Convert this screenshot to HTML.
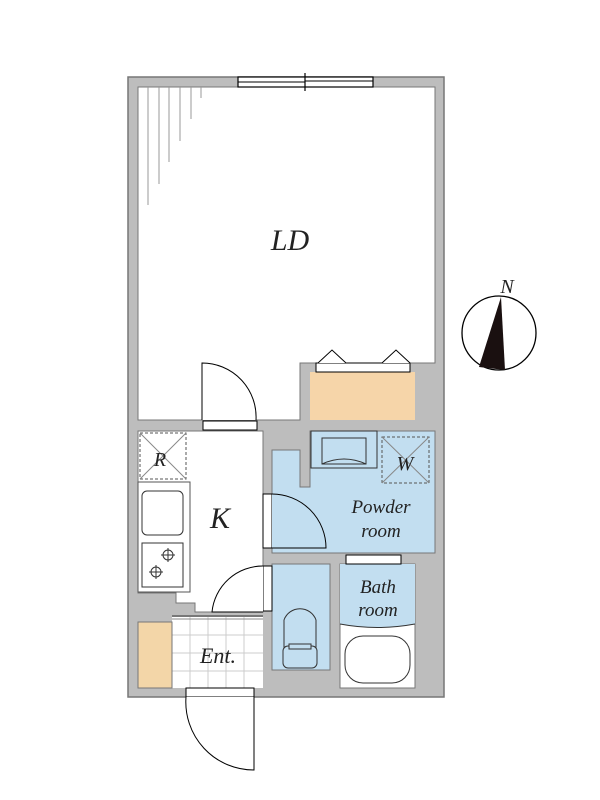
<!DOCTYPE html>
<html><head><meta charset="utf-8"><style>html,body{margin:0;padding:0;background:#fff}svg{display:block}</style></head>
<body>
<svg width="600" height="800" viewBox="0 0 600 800" xmlns="http://www.w3.org/2000/svg" font-family="Liberation Serif, serif" font-style="italic">
<rect x="128" y="77" width="316" height="620" fill="#bdbdbd" stroke="#777" stroke-width="1.5"/>
<path d="M138 87 H435 V363 H300 V420 H138 Z" fill="#fff" stroke="#777" stroke-width="1"/>
<g stroke="#999" stroke-width="1">
<line x1="148" y1="87" x2="148" y2="205"/><line x1="159" y1="87" x2="159" y2="184"/>
<line x1="169" y1="87" x2="169" y2="162"/><line x1="180" y1="87" x2="180" y2="141"/>
<line x1="191" y1="87" x2="191" y2="119"/><line x1="201" y1="87" x2="201" y2="98"/>
</g>
<rect x="238" y="77" width="135" height="10" fill="#fff" stroke="#000" stroke-width="1.2"/>
<line x1="238" y1="82" x2="305" y2="82" stroke="#000"/><line x1="305" y1="81" x2="373" y2="81" stroke="#000"/>
<line x1="305" y1="73" x2="305" y2="91" stroke="#000" stroke-width="1.2"/>
<text x="290" y="250" font-size="30" text-anchor="middle" fill="#222">LD</text>
<rect x="310" y="372" width="105" height="48" fill="#f6d5a9"/>
<rect x="316" y="363" width="94" height="9" fill="#fff" stroke="#000"/>
<path d="M318 363 L332 350 L346 363 M382 363 L396 350 L410 363" fill="#fff" stroke="#000"/>
<rect x="203" y="421" width="54" height="9" fill="#fff" stroke="#000"/>
<path d="M202 420 V363 A54 54 0 0 1 256 420" fill="#fff" stroke="#000"/>
<!-- Kitchen -->
<path d="M138 431 H263 V612 H195 V603 H176 V593 H138 Z" fill="#fff" stroke="#777"/>
<rect x="140" y="433" width="46" height="46" fill="#fff" stroke="#555" stroke-dasharray="3,2"/>
<line x1="140" y1="433" x2="186" y2="479" stroke="#888"/><line x1="186" y1="433" x2="140" y2="479" stroke="#888"/>
<text x="160" y="466" font-size="20" text-anchor="middle" fill="#222">R</text>
<rect x="138" y="482" width="52" height="110" fill="#fff" stroke="#555"/>
<rect x="142" y="491" width="41" height="44" rx="5" fill="#fff" stroke="#333"/>
<rect x="142" y="543" width="41" height="44" fill="#fff" stroke="#333"/>
<circle cx="168" cy="555" r="5" fill="none" stroke="#333"/><circle cx="156" cy="572" r="5" fill="none" stroke="#333"/>
<path d="M168 548V562M161 555H175M156 565V579M149 572H163" stroke="#333"/>
<text x="220" y="528" font-size="30" text-anchor="middle" fill="#222">K</text>
<path d="M272 450 H300 V487 H310 V431 H435 V553 H272 Z" fill="#c2def0" stroke="#777"/>
<rect x="311" y="431" width="66" height="37" fill="#c2def0" stroke="#333"/>
<rect x="322" y="438" width="44" height="26" fill="#c2def0" stroke="#333"/>
<path d="M322 464 Q344 454 366 464" fill="none" stroke="#333"/>
<rect x="382" y="437" width="47" height="46" fill="none" stroke="#555" stroke-dasharray="3,2"/>
<line x1="382" y1="437" x2="429" y2="483" stroke="#888"/><line x1="429" y1="437" x2="382" y2="483" stroke="#888"/>
<text x="405" y="470" font-size="20" text-anchor="middle" fill="#222">W</text>
<text x="381" y="513" font-size="19" text-anchor="middle" fill="#222">Powder</text>
<text x="381" y="537" font-size="19" text-anchor="middle" fill="#222">room</text>
<rect x="263" y="494" width="9" height="54" fill="#fff" stroke="#000"/>
<path d="M272 494 A54 54 0 0 1 326 548 H272" fill="#c2def0" stroke="#000"/>
<rect x="272" y="564" width="58" height="106" fill="#c2def0" stroke="#777"/>
<path d="M284 648 V620 A17 17 0 0 1 316 620 V648" fill="#c2def0" stroke="#333"/>
<rect x="283" y="646" width="34" height="22" rx="5" fill="#c2def0" stroke="#333"/>
<rect x="289" y="644" width="22" height="5" fill="#c2def0" stroke="#333"/>
<rect x="340" y="564" width="75" height="124" fill="#fff" stroke="#777"/>
<path d="M340 564 H415 V624 Q377 631 340 624 Z" fill="#c2def0"/>
<path d="M340 624 Q377 631 415 624" fill="none" stroke="#333"/>
<rect x="345" y="636" width="65" height="47" rx="18" fill="#fff" stroke="#333"/>
<rect x="346" y="555" width="55" height="9" fill="#fff" stroke="#000"/>
<text x="378" y="593" font-size="19" text-anchor="middle" fill="#222">Bath</text>
<text x="378" y="616" font-size="19" text-anchor="middle" fill="#222">room</text>
<rect x="263" y="566" width="9" height="45" fill="#fff" stroke="#000"/>
<path d="M263 612 H212 A51 51 0 0 1 263 566" fill="#fff" stroke="#000"/>
<rect x="172" y="617" width="91" height="71" fill="#fff"/>
<g stroke="#ccc" stroke-width="1">
<line x1="190" y1="617" x2="190" y2="688"/><line x1="208" y1="617" x2="208" y2="688"/><line x1="226" y1="617" x2="226" y2="688"/><line x1="244" y1="617" x2="244" y2="688"/>
<line x1="172" y1="635" x2="263" y2="635"/><line x1="172" y1="653" x2="263" y2="653"/><line x1="172" y1="671" x2="263" y2="671"/>
</g>
<line x1="172" y1="616" x2="263" y2="616" stroke="#333"/><line x1="172" y1="619" x2="263" y2="619" stroke="#888"/>
<rect x="138" y="622" width="34" height="66" fill="#f3d6a8" stroke="#777"/>
<text x="218" y="663" font-size="22" text-anchor="middle" fill="#222">Ent.</text>
<rect x="186" y="688" width="68" height="9" fill="#fff" stroke="#000"/>
<path d="M186 697 A68 68 0 0 0 254 770 V697" fill="#fff" stroke="#000"/>
<circle cx="499" cy="333" r="37" fill="#fff" stroke="#000" stroke-width="1.3"/>
<path d="M501 297 L479 367 L505 370 Z" fill="#1a1010"/>
<text x="507" y="293" font-size="20" text-anchor="middle" fill="#222">N</text>
</svg>
</body></html>
